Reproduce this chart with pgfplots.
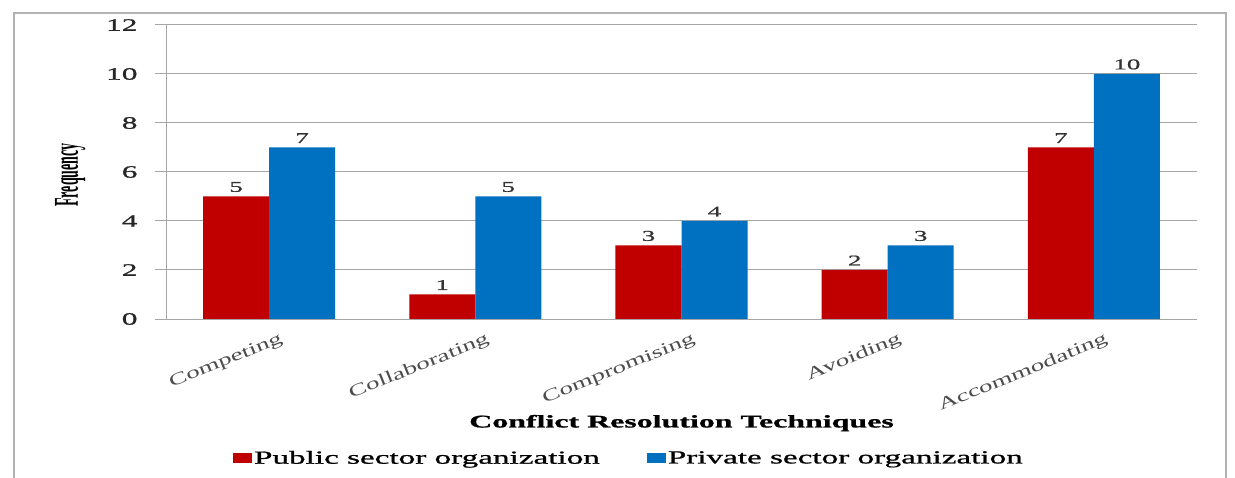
\documentclass[border=0pt]{standalone}
\usepackage{pgfplots}
\pgfplotsset{compat=1.18}
\usepackage{fontspec}
\setmainfont[FakeStretch=1.8,FakeBold=1]{Liberation Serif}
\newfontfamily\plainserif{Liberation Serif}
\definecolor{pubred}{HTML}{C00000}
\definecolor{privblue}{HTML}{0070C0}
\definecolor{gridgray}{HTML}{A6A6A6}
\newcommand{\xl}[1]{\scalebox{1.6}[1]{\plainserif\fontsize{17}{17}\selectfont #1}}
\begin{document}
\begin{tikzpicture}
\useasboundingbox (0,0) rectangle (1235bp,478bp);
\fill[white] (0,0) rectangle (1235bp,478bp);
\draw[black!30, line width=2bp] (14bp,-5bp) rectangle (1226bp,465bp);
\begin{axis}[
  at={(166bp,159bp)}, anchor=south west,
  scale only axis, width=1031bp, height=294bp,
  ybar=0pt, bar width=66bp,
  xmin=-0.5, xmax=4.5, ymin=0, ymax=12,
  ytick={0,2,...,12},
  xtick={0,1,2,3,4},
  xticklabels={\xl{Competing},\xl{Collaborating},\xl{Compromising},\xl{Avoiding},\xl{Accommodating}},
  xtick style={draw=none},
  extra x ticks={-0.5,0.5,1.5,2.5,3.5,4.5},
  extra x tick labels={},
  extra x tick style={major tick length=4bp, tick style={draw=gridgray}, grid=none},
  axis lines*=left,
  axis line style={gridgray, line width=1bp},
  ymajorgrids, grid style={gridgray, line width=1bp},
  tick align=outside, major tick length=11bp,
  ytick style={gridgray, line width=1bp},
  /pgf/number format/assume math mode=true,
  yticklabel style={font=\fontsize{17.5}{17.5}\selectfont, text=black!85, xshift=-14bp},
  xticklabel style={text=black!70, rotate=22, anchor=north east, xshift=12bp, yshift=-2bp},
  nodes near coords,
  nodes near coords style={font=\fontsize{15}{15}\selectfont, text=black!80, yshift=1bp},
  xlabel={\textbf{Conflict Resolution Techniques}},
  xlabel style={at={(axis description cs:0.5,-0.354)}, anchor=center, font=\fontsize{17.8}{17.8}\selectfont},
  ylabel={\scalebox{1}[2.5]{\plainserif\bfseries\fontsize{14}{14}\selectfont Frequency}},
  ylabel style={at={(axis description cs:-0.093,0.49)}, anchor=center},
  legend style={at={(axis description cs:0.449,-0.473)}, anchor=center, draw=none, fill=none,
    font=\fontsize{18.5}{18.5}\selectfont, legend columns=2,
    /tikz/every even column/.append style={column sep=45bp}},
  legend image code/.code={\fill[#1] (0bp,-5bp) rectangle (19bp,5bp);},
]
\addplot[fill=pubred, draw=none] coordinates {(0,5) (1,1) (2,3) (3,2) (4,7)};
\addplot[fill=privblue, draw=none] coordinates {(0,7) (1,5) (2,4) (3,3) (4,10)};
\legend{Public sector organization, Private sector organization}
\end{axis}
\end{tikzpicture}
\end{document}
